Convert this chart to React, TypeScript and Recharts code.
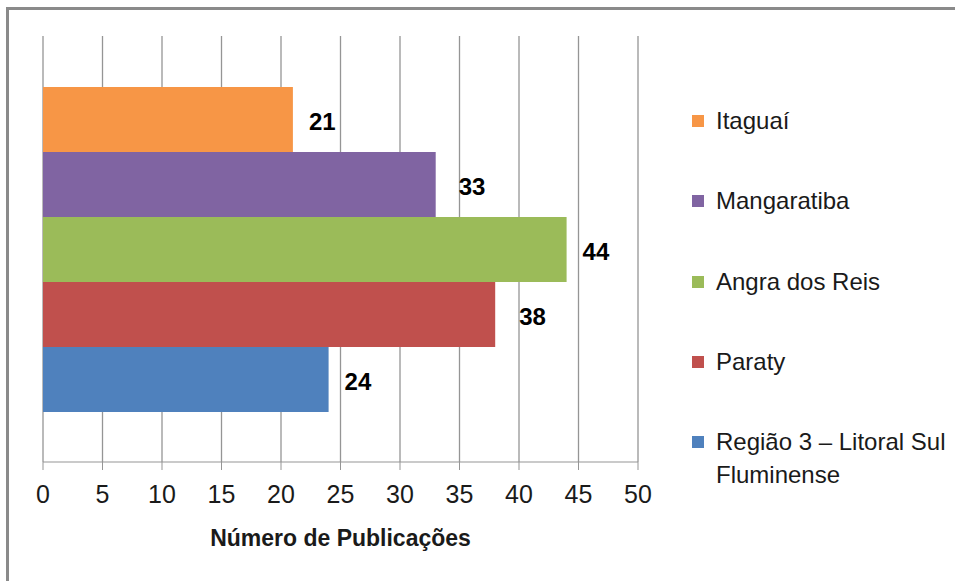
import React from "react";
import { Bar, BarChart, CartesianGrid, Label, LabelList, Legend, XAxis, YAxis } from "recharts";

const categories = ["Publicações"];
const seriesNames = ["Itaguaí", "Mangaratiba", "Angra dos Reis", "Paraty", "Região 3 – Litoral Sul Fluminense"];
const seriesValues = [21, 33, 44, 38, 24];
const xTicks = [0, 5, 10, 15, 20, 25, 30, 35, 40, 45, 50];

const colors = ["#F79646", "#8064A2", "#9BBB59", "#C0504D", "#4F81BD"];
const labelOffsets = [16, 23, 16, 24, 16];
const FONT = "'Liberation Sans', Arial, sans-serif";

const data = categories.map((name) => {
  const row: Record<string, string | number> = { name };
  seriesNames.forEach((s, i) => {
    row[`s${i}`] = seriesValues[i];
  });
  return row;
});

const LegendBox = (props: any) => {
  const items = [...(props.payload || [])].sort(
    (a: any, b: any) => seriesNames.indexOf(a.value) - seriesNames.indexOf(b.value)
  );
  return (
    <div style={{ fontFamily: FONT, fontSize: 24, color: "#1a1a1a" }}>
      {items.map((it: any) => (
        <div key={it.value} style={{ display: "flex", alignItems: "flex-start", height: 80.3 }}>
          <div style={{ width: 12, height: 12, marginTop: 11, marginRight: 12, background: it.color, flex: "none" }} />
          <div style={{ width: 240, lineHeight: "33px" }}>{it.value}</div>
        </div>
      ))}
    </div>
  );
};

const App: React.FC = () => {
  return (
    <div style={{ position: "absolute", left: 0, top: 0, width: 955, height: 581, overflow: "hidden", background: "#fff" }}>
      <div
        style={{
          position: "absolute",
          left: 6,
          top: 7,
          width: 1200,
          height: 1200,
          borderTop: "3px solid #8a8a8a",
          borderLeft: "3px solid #8a8a8a",
        }}
      />
      <BarChart
        width={955}
        height={581}
        data={data}
        layout="vertical"
        margin={{ top: 36, right: 317, bottom: 35, left: 43 }}
        barCategoryGap="12%"
        barGap={0}
        style={{ position: "absolute", left: 0, top: 0 }}
      >
        <CartesianGrid horizontal={false} stroke="#959595" strokeWidth={1.3} />
        <XAxis
          type="number"
          domain={[0, 50]}
          ticks={xTicks}
          interval={0}
          height={84}
          tickSize={8}
          tickMargin={15}
          stroke="#959595"
          tick={{ fill: "#1a1a1a", fontSize: 25, fontFamily: FONT }}
        >
          <Label
            value="Número de Publicações"
            position="insideBottom"
            offset={0}
            style={{ fill: "#1a1a1a", fontSize: 23, fontWeight: "bold", fontFamily: FONT }}
          />
        </XAxis>
        <YAxis type="category" dataKey="name" hide />
        {seriesNames.map((s, i) => (
          <Bar key={s} dataKey={`s${i}`} name={s} fill={colors[i]} isAnimationActive={false}>
            <LabelList
              dataKey={`s${i}`}
              position="right"
              offset={labelOffsets[i]}
              dy={2}
              style={{ fill: "#000", fontSize: 24, fontWeight: "bold", fontFamily: FONT }}
            />
          </Bar>
        ))}
        <Legend
          layout="vertical"
          align="center"
          verticalAlign="middle"
          content={<LegendBox />}
          wrapperStyle={{ position: "absolute", left: 692, top: 104, width: 260 }}
        />
      </BarChart>
    </div>
  );
};

export default App;
